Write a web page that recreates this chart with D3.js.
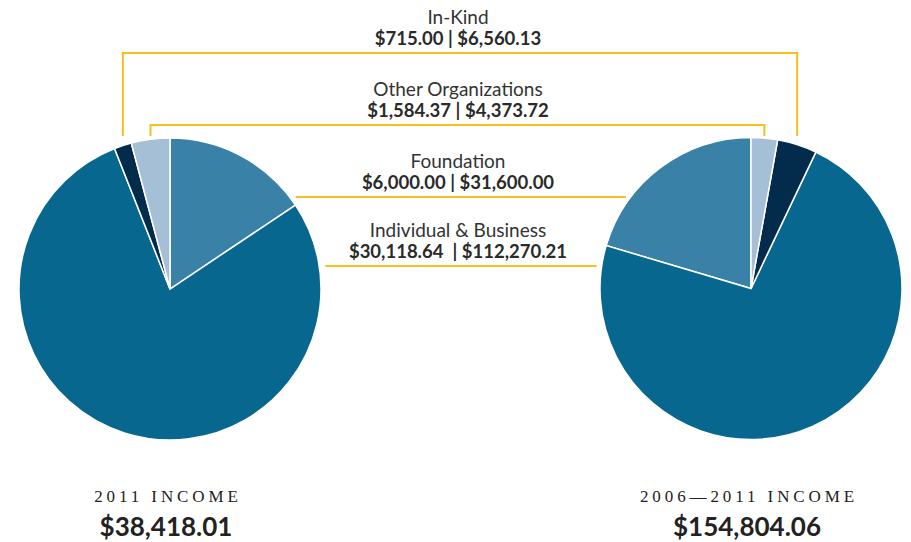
<!DOCTYPE html>
<html lang="en">
<head>
    <meta charset="UTF-8">
    <title>Income</title>
    <script src="https://d3js.org/d3.v7.min.js"></script>
    <style>
        body { margin: 0; background: #fff; }
        svg { display: block; }
        .lbl { font-family: Lato, sans-serif; font-size: 19px; fill: #333; }
        .val { font-family: Lato, sans-serif; font-size: 18.5px; font-weight: 700; fill: #2a2a2a; white-space: pre; }
        .ttl { font-family: "Liberation Serif", serif; font-size: 17px; letter-spacing: 3.9px; fill: #222; }
        .tot { font-family: Lato, sans-serif; font-size: 26px; font-weight: 700; fill: #222; }
    </style>
</head>
<body>
    <svg width="911" height="542"></svg>
    <script>
        // data, in slice order (clockwise on the left pie, counter-clockwise on the right)
        const categories = ["Foundation", "Individual & Business", "In-Kind", "Other Organizations"];
        const income2011 = [6000.00, 30118.64, 715.00, 1584.37];
        const income0611 = [31600.00, 112270.21, 6560.13, 4373.72];
        const colors = ["#3a81a7", "#08678f", "#032b4b", "#a4bfd6"];

        // labels, top to bottom
        const labelOrder = ["In-Kind", "Other Organizations", "Foundation", "Individual & Business"];
        const labelRows = [24, 96, 168, 237]; // label baselines

        const totals = [d3.sum(income2011), d3.sum(income0611)];
        const titles = ["2011 INCOME", "2006\u20142011 INCOME"];

        const r = 151;
        const pies = [
            { cx: 170, cy: 289, values: income2011, start: 0, end: 2 * Math.PI },
            { cx: 751, cy: 288.5, values: income0611, start: 0, end: -2 * Math.PI }
        ];
        const midX = 458;
        const fmt = d3.format("$,.2f");
        const gold = "#f8bf1e";

        const svg = d3.select("svg");
        const arc = d3.arc().innerRadius(0).outerRadius(r);
        const color = d3.scaleOrdinal(categories, colors);

        pies.forEach(p => {
            p.arcs = d3.pie().sort(null).startAngle(p.start).endAngle(p.end)(p.values);
            const g = svg.append("g").attr("transform", `translate(${p.cx},${p.cy})`);
            g.selectAll("path")
                .data(p.arcs)
                .join("path")
                .attr("d", arc)
                .attr("fill", (d, i) => color(categories[i]))
                .attr("stroke", "#fff")
                .attr("stroke-width", 1.5);
        });

        // x of a slice's outer edge at its middle angle
        function edgeX(p, name) {
            const a = p.arcs[categories.indexOf(name)];
            const m = (a.startAngle + a.endAngle) / 2;
            return p.cx + r * Math.sin(m);
        }
        // x where a horizontal line at y meets the pie outline, on the inner side
        function rimX(p, y, side) {
            const dy = y - p.cy;
            return p.cx + side * Math.sqrt(r * r - dy * dy);
        }

        const lines = svg.append("g").attr("fill", "none").attr("stroke", gold).attr("stroke-width", 2);
        const text = svg.append("g").attr("text-anchor", "middle");

        labelOrder.forEach((name, k) => {
            const i = categories.indexOf(name);
            const y0 = labelRows[k];
            text.append("text").attr("class", "lbl").attr("x", midX).attr("y", y0).text(name);
            const sep = name === "Individual & Business" ? "  | " : " | ";
            text.append("text").attr("class", "val").attr("x", midX).attr("y", y0 + 21)
                .text(fmt(income2011[i]) + sep + fmt(income0611[i]));

            const ly = y0 + 29;
            if (ly < pies[0].cy - r) {
                // bracket over the tops of both pies
                const x1 = edgeX(pies[0], name), x2 = edgeX(pies[1], name);
                const yb = pies[0].cy - r - 2;
                lines.append("path").attr("d", `M${x1},${yb}V${ly}H${x2}V${yb}`);
            } else {
                const x1 = rimX(pies[0], ly, 1) + 6, x2 = rimX(pies[1], ly, -1) - 5;
                lines.append("path").attr("d", `M${x1},${ly}H${x2}`);
            }
        });

        pies.forEach((p, j) => {
            text.append("text").attr("class", "ttl").attr("x", p.cx - 2).attr("y", 502).text(titles[j]);
            text.append("text").attr("class", "tot").attr("x", p.cx - 4).attr("y", 536).text(fmt(totals[j]));
        });
    </script>
</body>
</html>
